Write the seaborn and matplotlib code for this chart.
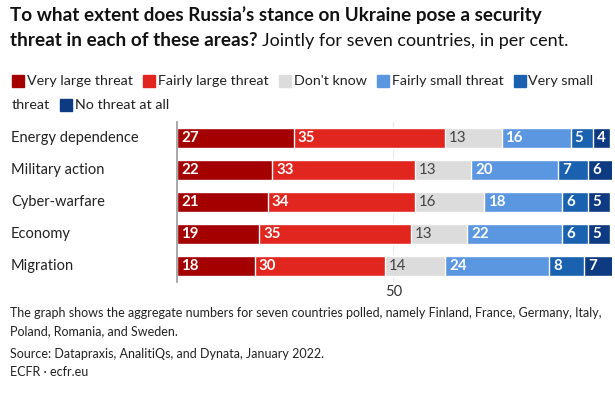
import matplotlib
matplotlib.use("Agg")
import matplotlib.pyplot as plt
import matplotlib.patches as mpatches
import seaborn as sns
import pandas as pd
import numpy as np

# data
areas = ["Energy dependence", "Military action", "Cyber-warfare", "Economy", "Migration"]
answers = ["Very large threat", "Fairly large threat", "Don't know",
           "Fairly small threat", "Very small threat", "No threat at all"]
very_large = [27, 22, 21, 19, 18]
fairly_large = [35, 33, 34, 35, 30]
dont_know = [13, 13, 16, 13, 14]
fairly_small = [16, 20, 18, 22, 24]
very_small = [5, 7, 6, 6, 8]
no_threat = [4, 6, 5, 5, 7]
colors = ["#a50000", "#e1261f", "#dcdcdc", "#5b97e1", "#1a62b0", "#0d3a80"]

df = pd.DataFrame({"area": areas, answers[0]: very_large, answers[1]: fairly_large,
                   answers[2]: dont_know, answers[3]: fairly_small,
                   answers[4]: very_small, answers[5]: no_threat})
cum = df[answers].cumsum(axis=1)
starts = cum - df[answers]

sns.set_style("white")
plt.rcParams["font.family"] = ["Lato", "DejaVu Sans"]

W, H = 615, 396
fig = plt.figure(figsize=(W / 100, H / 100), dpi=100)
ax = fig.add_axes([177 / W, 1 - 282 / H, 435 / W, 160 / H])

# stacked bars: draw cumulative totals from the back to the front
for i in reversed(range(len(answers))):
    sns.barplot(x=cum[answers[i]], y=df["area"], orient="h", color=colors[i],
                width=0.64, edgecolor="white", linewidth=1, saturation=1, ax=ax)

for i, col in enumerate(answers):
    for j in range(len(areas)):
        v = df[col].iloc[j]
        tc = "#444444" if col == "Don't know" else "white"
        fw = "normal" if col == "Don't know" else "bold"
        ax.text(starts[col].iloc[j] + 0.9, j, str(v), va="center", ha="left",
                color=tc, fontsize=10.8, fontweight=fw)

ax.set_xlim(0, 100.5)
ax.set_ylim(4.5, -0.5)
ax.axvline(50, color="#e8e8e8", lw=0.8, zorder=0)
ax.set_xticks([50])
ax.set_xticklabels(["50"], fontsize=10.5, color="#333333")
ax.tick_params(axis="x", length=0, pad=2)
ax.tick_params(axis="y", length=0, pad=0)
ax.set_yticklabels([])
ax.set_xlabel("")
ax.set_ylabel("")
for s in ["top", "right", "bottom"]:
    ax.spines[s].set_visible(False)
ax.spines["left"].set_color("#999999")
ax.spines["left"].set_linewidth(1.2)
ax.set_axisbelow(True)

for j, a in enumerate(areas):
    fig.text(11 / W, 1 - (138 + 32 * j) / H, a, fontsize=10.5, va="center",
             ha="left", color="#222222")

# title
fig.canvas.draw()
r = fig.canvas.get_renderer()
fig.text(10 / W, 1 - 15 / H, "To what extent does Russia’s stance on Ukraine pose a security",
         fontsize=13.6, fontweight="bold", va="center", color="#111111")
t2 = fig.text(10 / W, 1 - 41 / H, "threat in each of these areas?", fontsize=13.6,
              fontweight="bold", va="center", color="#111111")
bb = t2.get_window_extent(r)
fig.text(bb.x1 / W + 4 / W, 1 - 41 / H, "Jointly for seven countries, in per cent.",
         fontsize=13, va="center", color="#111111")

# legend laid out by hand, wrapped like the original
rows = [[(colors[0], "Very large threat"), (colors[1], "Fairly large threat"),
         (colors[2], "Don't know"), (colors[3], "Fairly small threat"),
         (colors[4], "Very small")],
        [(None, "threat"), (colors[5], "No threat at all")]]
for k, row in enumerate(rows):
    y = 81 + 24 * k
    x = 12
    for c, lab in row:
        if c is not None:
            fig.patches.append(mpatches.Rectangle((x / W, 1 - (y + 6) / H), 12 / W, 12 / H,
                                                  transform=fig.transFigure, color=c))
            x += 15
        t = fig.text(x / W, 1 - y / H, lab, fontsize=10.3, va="center", color="#222222")
        x = t.get_window_extent(r).x1 + 10

# footer
foot = [(313, "The graph shows the aggregate numbers for seven countries polled, namely Finland, France, Germany, Italy,"),
        (331, "Poland, Romania, and Sweden."),
        (354, "Source: Datapraxis, AnalitiQs, and Dynata, January 2022."),
        (372, "ECFR · ecfr.eu")]
for y, s in foot:
    fig.text(10 / W, 1 - y / H, s, fontsize=9, va="center", color="#222222")

fig.savefig("out.png", dpi=100)
